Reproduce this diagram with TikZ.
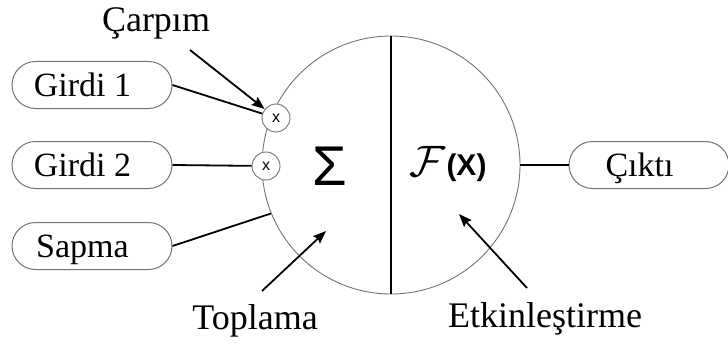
\documentclass[tikz,border=0pt]{standalone}
\usepackage{fontspec}
\usepackage{graphicx}
\setmainfont{Liberation Serif}
\newfontfamily\lsans{Liberation Sans}
\usetikzlibrary{arrows.meta}
\tikzset{
  inbox/.style={draw=black!55, line width=1pt, rounded corners=23.5pt, minimum width=160pt, minimum height=47pt,
    inner sep=0pt, font=\fontsize{34}{40}\selectfont, text height=22.5pt, text depth=0pt},
  mult/.style={circle, draw=black!55, fill=white, line width=0.9pt, minimum size=28pt, inner sep=0pt,
    font=\lsans\fontsize{16}{18}\selectfont},
  lbl/.style={font=\fontsize{36}{42}\selectfont, inner sep=0pt, anchor=base},
  conn/.style={line width=1.8pt, black},
  arr/.style={line width=1.8pt, black, -{Stealth[length=13pt, width=10pt, inset=2pt]}},
}
\newcommand{\lft}{\kern-19pt}
\begin{document}
\begin{tikzpicture}[x=1pt, y=-1pt]
\useasboundingbox (0,0) rectangle (728,345);
% main neuron circle
\node[circle, draw=black!55, line width=0.9pt, minimum size=258pt, inner sep=0pt] (big) at (391,165) {};
\draw[line width=1.8pt] (big.north) -- (big.south);
% symbols
\node[inner sep=0pt, font=\lsans\fontsize{56}{60}\selectfont] (sum) at (330,166) {\char"03A3};
\node[inner sep=0pt] (act) at (448,164) {\raisebox{-1pt}{\scalebox{4.4}{$\mathcal{F}$}}\kern1pt{\lsans\bfseries\fontsize{30}{32}\selectfont(X)}};
% input boxes
\node[inbox] (g1) at (92,85) {\lft Girdi 1};
\node[inbox] (g2) at (92,165) {\lft Girdi 2};
\node[inbox] (sp) at (92,246) {\lft Sapma};
\node[inbox] (out) at (649,165) {\lft Çıktı};
% multiplication circles
\node[mult] (m1) at (276,118) {x};
\node[mult] (m2) at (266,166) {x};
% connectors
\draw[conn] (g1.east) -- (m1);
\draw[conn] (g2.east) -- (m2);
\draw[conn] (sp.east) -- (big.202);
\draw[conn] (big.east) -- (out.west);
% labels
\node[lbl] (carpim) at (156,32) {Çarpım};
\node[lbl] (topl) at (255,329) {Toplama};
\node[lbl] (etk) at (545,327) {Etkinleştirme};
\coordinate (ca) at (190,50);
\coordinate (ta) at (262,291);
\coordinate (tb) at (326,231);
\coordinate (ea) at (527,288);
\coordinate (eb) at (459,214);
\draw[arr] (ca) -- (m1);
\draw[arr] (ta) -- (tb);
\draw[arr] (ea) -- (eb);
\end{tikzpicture}
\end{document}
